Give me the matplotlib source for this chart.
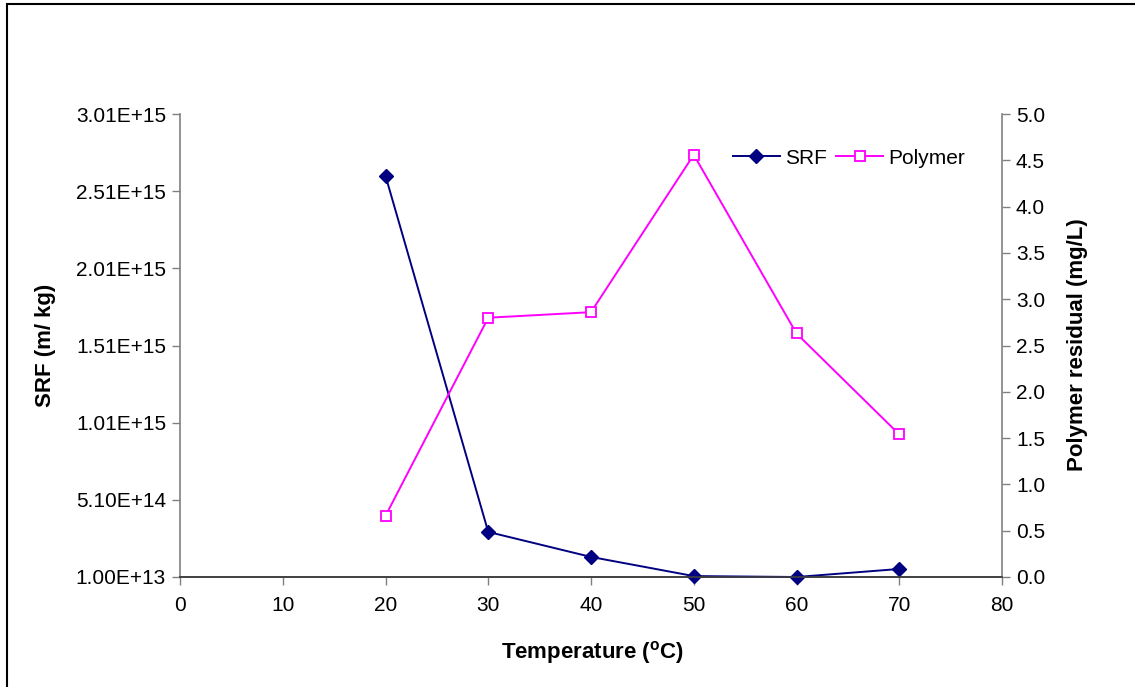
import matplotlib
matplotlib.use("Agg")
import matplotlib.pyplot as plt
from matplotlib.patches import Rectangle

plt.rcParams['font.family'] = ['Liberation Sans', 'DejaVu Sans']

temperature = [20, 30, 40, 50, 60, 70]
srf = [2.61e15, 3.02e14, 1.40e14, 1.6e13, 1.0e13, 6.2e13]
polymer = [0.66, 2.80, 2.86, 4.56, 2.63, 1.54]

x_ticks = [0, 10, 20, 30, 40, 50, 60, 70, 80]
srf_ticks = [1.00e13, 5.10e14, 1.01e15, 1.51e15, 2.01e15, 2.51e15, 3.01e15]
poly_ticks = [0.0, 0.5, 1.0, 1.5, 2.0, 2.5, 3.0, 3.5, 4.0, 4.5, 5.0]

W, H = 1135, 687
fig = plt.figure(figsize=(W / 100, H / 100), dpi=100)
fig.patch.set_facecolor('white')

# outer chart border (left & top visible)
fig.add_artist(Rectangle((7 / W, -0.05), 1.2, 1 - 4 / H + 0.05, transform=fig.transFigure,
                         fill=False, edgecolor='black', linewidth=1.5))

ax = fig.add_axes([180 / W, 1 - 577 / H, (1002 - 180) / W, (577 - 114) / H])
ax2 = ax.twinx()

ax.plot(temperature, srf, color='#000080', marker='D', markersize=7, linewidth=1.4,
        label='SRF', clip_on=False, zorder=3)
ax2.plot(temperature, polymer, color='#FF00FF', marker='s', markersize=7,
         markerfacecolor='white', markeredgecolor='#FF00FF', markeredgewidth=1.3,
         linewidth=1.4, label='Polymer', clip_on=False, zorder=3)

ax.set_xlim(0, 80)
ax.set_xticks(x_ticks)
ax.set_ylim(1.00e13, 3.01e15)
ax.set_yticks(srf_ticks)
ax.set_yticklabels(['%.2E' % v for v in srf_ticks])
ax2.set_ylim(0, 5.0)
ax2.set_yticks(poly_ticks)
ax2.set_yticklabels(['%.1f' % v for v in poly_ticks])

for a in (ax, ax2):
    a.spines['top'].set_visible(False)
    for s in ('left', 'right', 'bottom'):
        a.spines[s].set_color('#808080')
        a.spines[s].set_linewidth(1.2)
    a.tick_params(axis='both', direction='out', length=6, width=1, color='#808080',
                  labelsize=15, pad=4)
ax.spines['bottom'].set_color('#404040')
ax2.spines['bottom'].set_color('#404040')
ax.spines['right'].set_visible(False)
ax2.spines['left'].set_visible(False)
ax.tick_params(axis='x', pad=8)

fig.text(593 / W, 1 - 653 / H, 'Temperature ($\\mathregular{^{o}}$C)', ha='center', va='center',
         fontsize=16, fontweight='bold')
fig.text(46 / W, 1 - 345 / H, 'SRF (m/ kg)', ha='center', va='center', rotation=90,
         fontsize=16, fontweight='bold')
fig.text(1078 / W, 1 - 345 / H, 'Polymer residual (mg/L)', ha='center', va='center',
         rotation=90, fontsize=16, fontweight='bold')

handles = [ax.get_lines()[0], ax2.get_lines()[0]]
fig.legend(handles, ['SRF', 'Polymer'], loc='center left',
           bbox_to_anchor=(733 / W, 1 - 158 / H), ncol=2, frameon=False,
           fontsize=15, handlelength=2.25, handletextpad=0.25, columnspacing=0.45,
           borderaxespad=0, borderpad=0)

fig.savefig('out.png', dpi=100, facecolor='white')
